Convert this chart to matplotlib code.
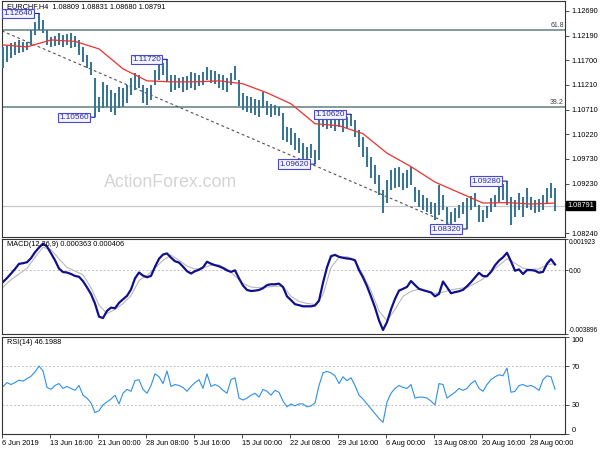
import matplotlib
matplotlib.use('Agg')
import matplotlib.pyplot as plt
import matplotlib.transforms as mtransforms
import numpy as np

plt.rcParams['font.family'] = ['Liberation Sans', 'DejaVu Sans']

# ---- data (EURCHF H4, one drawn bar ~ 2.7 H4 candles) ----
bar_high = [1.1197, 1.1201, 1.1205, 1.1207, 1.1211, 1.1207, 1.1207, 1.1231, 1.1247, 1.1264,
            1.1251, 1.1231, 1.1217, 1.1219, 1.1225, 1.1221, 1.1223, 1.1225, 1.1219, 1.1211,
            1.1197, 1.1181, 1.1167, 1.1135, 1.1097, 1.1127, 1.1121, 1.1111, 1.1105, 1.1117,
            1.1115, 1.1121, 1.1135, 1.1145, 1.1141, 1.1121, 1.1115, 1.1121, 1.1151, 1.1165,
            1.1165, 1.1172, 1.1141, 1.1141, 1.1135, 1.1137, 1.1139, 1.1147, 1.1145, 1.1141,
            1.1147, 1.1157, 1.1151, 1.1149, 1.1143, 1.1141, 1.1135, 1.1145, 1.1159, 1.1131,
            1.1105, 1.1099, 1.1097, 1.1093, 1.1091, 1.1107, 1.1089, 1.1083, 1.1081, 1.1077,
            1.1065, 1.1037, 1.1035, 1.1025, 1.1015, 1.1004, 1.0996, 1.1002, 1.0990, 1.1051,
            1.1055, 1.1053, 1.1055, 1.1053, 1.1055, 1.1051, 1.1057, 1.1062, 1.1051, 1.1031,
            1.1017, 1.0996, 1.0976, 1.0960, 1.0940, 1.0910, 1.0930, 1.0950, 1.0954, 1.0956,
            1.0944, 1.0950, 1.0956, 1.0916, 1.0910, 1.0900, 1.0894, 1.0886, 1.0884, 1.0920,
            1.0900, 1.0876, 1.0866, 1.0874, 1.0880, 1.0886, 1.0894, 1.0898, 1.0904, 1.0880,
            1.0870, 1.0878, 1.0894, 1.0900, 1.0918, 1.0922, 1.0928, 1.0896, 1.0890, 1.0904,
            1.0896, 1.0914, 1.0896, 1.0890, 1.0892, 1.0900, 1.0914, 1.0924, 1.0914]
bar_low = [1.1155, 1.1167, 1.1175, 1.1181, 1.1185, 1.1187, 1.1191, 1.1201, 1.1221, 1.1231,
           1.1225, 1.1201, 1.1197, 1.1199, 1.1201, 1.1197, 1.1201, 1.1195, 1.1197, 1.1181,
           1.1167, 1.1155, 1.1141, 1.1056, 1.1067, 1.1075, 1.1077, 1.1067, 1.1061, 1.1075,
           1.1077, 1.1085, 1.1101, 1.1111, 1.1115, 1.1085, 1.1081, 1.1091, 1.1121, 1.1131,
           1.1141, 1.1127, 1.1107, 1.1111, 1.1115, 1.1107, 1.1111, 1.1115, 1.1111, 1.1119,
           1.1121, 1.1131, 1.1125, 1.1123, 1.1115, 1.1111, 1.1107, 1.1121, 1.1131, 1.1079,
           1.1071, 1.1067, 1.1065, 1.1061, 1.1057, 1.1075, 1.1061, 1.1057, 1.1061, 1.1059,
           1.1011, 1.1006, 1.1000, 1.0990, 1.0984, 1.0970, 1.0966, 1.0974, 1.0962, 1.0970,
           1.1037, 1.1033, 1.1035, 1.1029, 1.1037, 1.1027, 1.1035, 1.1039, 1.1017, 1.0996,
           1.0976, 1.0956, 1.0934, 1.0922, 1.0900, 1.0864, 1.0884, 1.0910, 1.0914, 1.0916,
           1.0910, 1.0914, 1.0920, 1.0886, 1.0876, 1.0870, 1.0866, 1.0862, 1.0850, 1.0860,
           1.0870, 1.0842, 1.0842, 1.0846, 1.0854, 1.0862, 1.0832, 1.0870, 1.0876, 1.0846,
           1.0846, 1.0854, 1.0866, 1.0876, 1.0886, 1.0890, 1.0880, 1.0840, 1.0856, 1.0870,
           1.0856, 1.0874, 1.0870, 1.0864, 1.0866, 1.0870, 1.0884, 1.0894, 1.0868]

# moving average, read every 6 bars
ma_val = [1.1201, 1.1197, 1.1211, 1.1208, 1.1193, 1.1153, 1.1129, 1.1127, 1.1127, 1.1129,
          1.1123, 1.1105, 1.1083, 1.1043, 1.1039, 1.1023, 1.0984, 1.0957, 1.0926, 1.0905,
          1.0884, 1.0885, 1.0882, 1.0884]

# swing labels
swing_bar = [9, 23, 41, 78, 87, 116, 126]
swing_price = [1.1264, 1.1056, 1.1172, 1.0962, 1.1062, 1.0832, 1.0928]

fib_levels = [1.12309, 1.10770]
fib_names = ['61.8', '38.2']
last_price = 1.08791
trend_bar = [-0.25, 113]
trend_price = [1.1229, 1.0838]

price_ticks = [1.12690, 1.12190, 1.11700, 1.11210, 1.10710, 1.10220, 1.09730, 1.09230, 1.08240]

# MACD main (x1e-4), one value per bar; signal every 2 bars
macd_main = [-7.1, -4.7, -2.0, 0.9, 4.0, 4.4, 5.0, 7.5, 11.1, 14.0,
             16.4, 14.6, 10.5, 6.2, 1.1, -1.0, -1.3, -2.2, -3.4, -3.9,
             -6.6, -10.4, -14.5, -20.3, -28.3, -29.2, -24.8, -22.8, -23.2, -19.9,
             -17.7, -15.6, -11.7, -4.9, -1.3, -3.2, -4.2, -3.4, 2.2, 7.1,
             9.7, 10.4, 7.8, 5.6, 4.8, 2.3, -0.5, -1.9, -0.5, 0.4,
             1.8, 5.3, 4.1, 3.2, 2.5, 1.4, 0.0, -0.9, 0.0, -4.9,
             -9.3, -12.0, -12.6, -12.4, -12.0, -10.9, -9.0, -8.5, -8.5, -8.1,
             -10.2, -15.9, -18.2, -20.7, -21.3, -22.0, -22.0, -22.0, -21.5, -18.6,
             -7.6, 1.9, 8.7, 9.5, 8.3, 7.7, 7.3, 7.0, 6.2, 0.2,
             -4.3, -9.7, -16.0, -22.7, -30.6, -36.5, -31.7, -23.9, -17.5, -12.4,
             -11.3, -10.1, -6.5, -9.0, -11.3, -12.1, -12.8, -13.5, -15.9, -14.4,
             -6.8, -10.3, -14.0, -13.3, -12.8, -11.9, -9.7, -7.2, -4.4, -1.5,
             -3.5, -3.6, -0.9, 3.1, 6.0, 8.0, 10.8, 5.5, -0.2, 0.6,
             -2.2, 0.2, 0.2, -0.2, -1.4, -0.9, 4.1, 6.9, 3.6]
macd_signal = [-10.2, -5.7, -2.2, 1.3, 8.0, 14.1, 12.8, 7.1, 1.8, -0.4,
               -2.7, -10.6, -21.2, -26.5, -23.9, -20.3, -15.5, -6.2, -3.1, 1.3,
               6.2, 9.3, 6.2, 2.7, 0.7, 1.6, 3.1, 3.4, 0.9, -3.5,
               -8.0, -10.2, -10.6, -10.2, -9.7, -9.7, -15.9, -19.0, -20.3, -20.8,
               -15.0, 1.8, 8.0, 8.4, 6.0, -2.7, -12.4, -24.8, -30.9, -23.9,
               -15.9, -12.8, -11.5, -12.8, -14.1, -13.3, -11.9, -11.1, -10.5, -8.0,
               -5.3, -0.9, 3.1, 7.1, 4.4, 1.3, 0.6, 0.9, 3.5, 4.1]

rsi = [49, 53, 51, 53, 55.5, 54.5, 57, 59.5, 64, 70,
       65, 48, 46, 50, 52, 47, 49, 47, 45, 50,
       40, 37, 32, 22, 24, 30, 33, 36, 40, 31,
       42, 46, 44, 55, 56, 46, 42, 50, 62, 59,
       52, 65, 49, 51, 50, 48, 44, 49, 53, 56,
       47, 62, 49, 51, 49, 45, 42, 56, 58, 37,
       35, 37, 40, 42, 38, 46, 44, 40, 45, 43,
       34, 28, 31, 29, 31, 31, 28, 29, 32, 50,
       63, 64.5, 63, 60, 52, 59, 55, 58, 50, 40,
       36, 31, 26, 21, 16, 12, 33, 42, 47, 50,
       48, 47, 51, 37, 38, 38, 37, 34, 30, 52,
       51, 37, 40, 43, 47, 45, 47, 52, 55, 47,
       44, 51, 56, 59, 61, 60, 68, 43, 44, 50,
       51, 49, 50, 48, 45, 56, 60, 59, 46.2]

time_labels = ['6 Jun 2019', '13 Jun 16:00', '21 Jun 00:00', '28 Jun 08:00', '5 Jul 16:00',
               '15 Jul 00:00', '22 Jul 08:00', '29 Jul 16:00', '6 Aug 00:00', '13 Aug 08:00',
               '20 Aug 16:00', '28 Aug 00:00']

# ---- figure ----
fs = 5.3
bar_col = '#3a7693'
frame_col = '#333333'

fig = plt.figure(figsize=(6, 4.5), dpi=100)
ax1 = fig.add_axes([2/600, 1-237/450, 563/600, 236/450])
ax2 = fig.add_axes([2/600, 1-334/450, 563/600, 95/450])
ax3 = fig.add_axes([2/600, 1-434/450, 563/600, 97/450])

n = len(bar_high)
idx = np.arange(n)
for ax in (ax1, ax2, ax3):
    ax.set_xlim(-0.25, 140.5)
    ax.yaxis.tick_right()
    ax.tick_params(axis='y', length=3, width=0.6, labelsize=fs, pad=1.5, color=frame_col)
    ax.tick_params(axis='x', length=0, labelbottom=False)
    for s in ax.spines.values():
        s.set_color(frame_col)
        s.set_linewidth(0.8)

# main price panel
ax1.set_ylim(1.0816, 1.1289)
for lvl, name in zip(fib_levels, fib_names):
    ax1.axhline(lvl, color='#5f7f7f', lw=1.1, zorder=1)
    ax1.text(0.998, lvl + 0.0002, name, transform=mtransforms.blended_transform_factory(ax1.transAxes, ax1.transData),
             ha='right', va='bottom', fontsize=fs - 0.3, color='#404040')
ax1.axhline(last_price, color='#c8c8c8', lw=0.9, zorder=1)
ax1.text(0.30, 0.232, 'ActionForex.com', transform=ax1.transAxes, ha='center', va='center',
         fontsize=12.8, color='#d4d4d4', zorder=0)
ax1.plot(trend_bar, trend_price, color='#505050', lw=0.8, ls=(0, (2.5, 2.5)), zorder=2)
ax1.vlines(idx, bar_low, bar_high, color=bar_col, lw=1.45, zorder=3)
ax1.plot(np.arange(0, n, 6), ma_val, color='#f03030', lw=0.9, zorder=4)

for b, p in zip(swing_bar, swing_price):
    ax1.annotate('%.5f' % p, xy=(b, p), xytext=(-6, 0), textcoords='offset pixels',
                 ha='right', va='center', fontsize=fs + 0.6, color='#2a2aa0', zorder=6,
                 bbox=dict(boxstyle='square,pad=0.15', fc='#f4f4ff', ec='#4a4ad0', lw=0.8),
                 arrowprops=dict(arrowstyle='-', color='#20208a', lw=0.8, shrinkA=0, shrinkB=0))

ax1.set_yticks(price_ticks)
ax1.set_yticklabels(['%.5f' % v for v in price_ticks])
ax1.text(1.004, last_price, '%.5f' % last_price,
         transform=mtransforms.blended_transform_factory(ax1.transAxes, ax1.transData),
         ha='left', va='center', fontsize=fs, color='white',
         bbox=dict(boxstyle='square,pad=0.2', fc='black', ec='black'))
ax1.text(0.008, 0.99, 'EURCHF,H4  1.08809 1.08831 1.08680 1.08791', transform=ax1.transAxes,
         ha='left', va='top', fontsize=fs, color='black')

# MACD panel
ax2.set_ylim(-0.003896, 0.001923)
ax2.axhline(0, color='#c0c0c0', lw=0.7, ls=(0, (2, 2)))
ax2.plot(np.arange(0, n, 2), np.array(macd_signal) * 1e-4, color='#b8b8b8', lw=0.8)
ax2.plot(idx, np.array(macd_main) * 1e-4, color='#10108c', lw=1.6)
ax2.set_yticks([0.001923, 0.0, -0.003896])
lbls = ax2.set_yticklabels(['0.001923', '0.00', '-0.003896'])
lbls[0].set_va('top')
lbls[2].set_va('bottom')
ax2.tick_params(axis='y', length=2, labelsize=4.7, pad=0.8)
ax2.text(0.008, 0.975, 'MACD(12,26,9) 0.000363 0.000406', transform=ax2.transAxes,
         ha='left', va='top', fontsize=fs, color='black')

# RSI panel
ax3.set_ylim(0, 100)
for lvl in (70, 30):
    ax3.axhline(lvl, color='#c0c0c0', lw=0.7, ls=(0, (2, 2)))
ax3.plot(idx, rsi, color='#2f8fe8', lw=0.8)
ax3.set_yticks([100, 70, 30, 0])
lbls = ax3.set_yticklabels(['100', '70', '30', '0'])
lbls[0].set_va('top')
lbls[3].set_va('bottom')
ax3.text(0.008, 0.975, 'RSI(14) 46.1988', transform=ax3.transAxes,
         ha='left', va='top', fontsize=fs, color='black')

xt = -0.25 + 12 * np.arange(len(time_labels))
ax3.set_xticks(xt)
ax3.set_xticklabels(time_labels, ha='left')
ax3.tick_params(axis='x', length=3, width=0.6, labelbottom=True, labelsize=fs, pad=1.5, color=frame_col)

fig.savefig('out.png', dpi=100, facecolor='white')
